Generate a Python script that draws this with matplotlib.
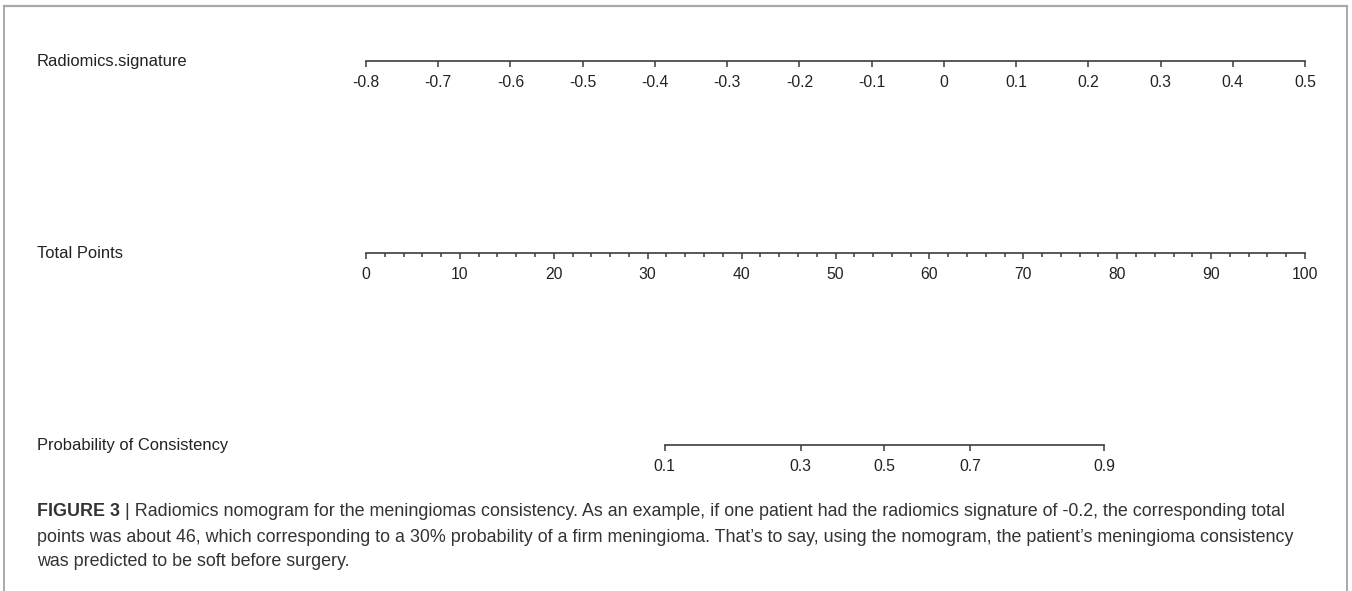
import matplotlib.pyplot as plt
from matplotlib.lines import Line2D

# nomogram scales
row_names = ['Radiomics.signature', 'Total Points', 'Probability of Consistency']
radiomics_ticks = [-0.8, -0.7, -0.6, -0.5, -0.4, -0.3, -0.2, -0.1, 0, 0.1, 0.2, 0.3, 0.4, 0.5]
radiomics_labels = ['-0.8', '-0.7', '-0.6', '-0.5', '-0.4', '-0.3', '-0.2', '-0.1', '0',
                    '0.1', '0.2', '0.3', '0.4', '0.5']
points_major = [0, 10, 20, 30, 40, 50, 60, 70, 80, 90, 100]
points_minor = list(range(0, 101, 2))
prob_labels = ['0.1', '0.3', '0.5', '0.7', '0.9']
prob_points = [31.8, 46.3, 55.2, 64.3, 78.6]   # where each probability sits on the points scale

caption_head = 'FIGURE 3'
caption_lines = [
    ' | Radiomics nomogram for the meningiomas consistency. As an example, if one patient had the radiomics signature of -0.2, the corresponding total',
    'points was about 46, which corresponding to a 30% probability of a firm meningioma. That\u2019s to say, using the nomogram, the patient\u2019s meningioma consistency',
    'was predicted to be soft before surgery.',
]

W, H = 1352, 591
fig = plt.figure(figsize=(W / 100, H / 100), dpi=100)
fig.patch.set_facecolor('white')

line_col = '#3c3c3c'
chart_font = ['Liberation Sans', 'DejaVu Sans']
cap_font = ['Liberation Sans Narrow', 'Liberation Sans', 'DejaVu Sans']

x0, x1 = 366 / W, 1305 / W
rows_y = [61, 253, 445]


def make_axis(y_px):
    ax = fig.add_axes([x0, 1 - y_px / H, x1 - x0, 0.001])
    ax.set_facecolor('none')
    for s in ['top', 'left', 'right']:
        ax.spines[s].set_visible(False)
    ax.spines['bottom'].set_color(line_col)
    ax.spines['bottom'].set_linewidth(1.2)
    ax.set_yticks([])
    ax.tick_params(axis='x', which='both', direction='out', color=line_col, width=1.1)
    ax.tick_params(axis='x', which='major', length=4.5, pad=5.5, labelsize=11.3, labelcolor='#222222')
    ax.tick_params(axis='x', which='minor', length=3)
    return ax


# Radiomics signature
ax1 = make_axis(rows_y[0])
ax1.set_xlim(radiomics_ticks[0], radiomics_ticks[-1])
ax1.set_xticks(radiomics_ticks)
ax1.set_xticklabels(radiomics_labels, family=chart_font)

# Total points
ax2 = make_axis(rows_y[1])
ax2.set_xlim(points_major[0], points_major[-1])
ax2.set_xticks(points_major)
ax2.set_xticks(points_minor, minor=True)
ax2.set_xticklabels([str(v) for v in points_major], family=chart_font)

# Probability
ax3 = make_axis(rows_y[2])
ax3.set_xlim(points_major[0], points_major[-1])
ax3.spines['bottom'].set_bounds(prob_points[0], prob_points[-1])
ax3.set_xticks(prob_points)
ax3.set_xticklabels(prob_labels, family=chart_font)

for name, y in zip(row_names, rows_y):
    fig.text(37 / W, 1 - (y + 0.5) / H, name, ha='left', va='center',
             fontsize=11.9, color='#222222', family=chart_font)

# frame around the figure panel (open at the bottom)
frame_col = '#a8a8a8'
fig.add_artist(Line2D([4 / W, 1347 / W], [1 - 6 / H, 1 - 6 / H], color=frame_col, lw=1.6))
fig.add_artist(Line2D([4 / W, 4 / W], [1 - 6 / H, 0], color=frame_col, lw=1.4))
fig.add_artist(Line2D([1347 / W, 1347 / W], [1 - 6 / H, 0], color=frame_col, lw=1.4))

# caption
cap_col = '#333333'
cap_size = 12.9
cap_y = [510, 535, 559]
head = fig.text(37 / W, 1 - cap_y[0] / H, caption_head, ha='left', va='center_baseline',
                fontsize=cap_size, fontweight='bold', color=cap_col, family=cap_font)
plt.annotate(caption_lines[0], xy=(1, 0), xycoords=head, va='bottom', ha='left',
             fontsize=cap_size, color=cap_col, family=cap_font, annotation_clip=False)
for txt, y in zip(caption_lines[1:], cap_y[1:]):
    fig.text(37 / W, 1 - y / H, txt, ha='left', va='center_baseline',
             fontsize=cap_size, color=cap_col, family=cap_font)

fig.savefig('out.png', dpi=100)
